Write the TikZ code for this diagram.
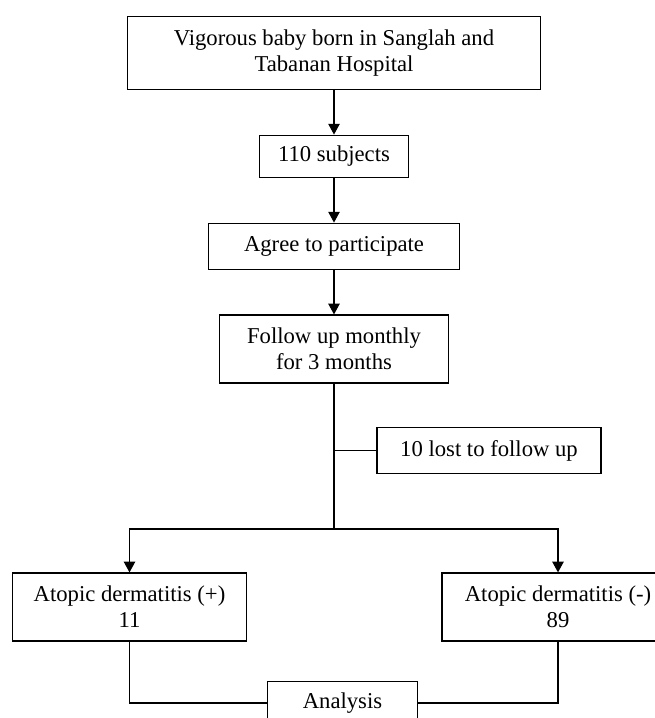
\documentclass[tikz,border=0pt]{standalone}
\usepackage{fontspec}
\setmainfont{Liberation Serif}
\usetikzlibrary{arrows.meta}
\begin{document}
\begin{tikzpicture}[x=0.75pt,y=-0.75pt,>={Triangle[length=8pt,width=8.5pt]},line width=0.9pt,
  every node/.style={font=\fontsize{17}{19.5}\selectfont},
  b/.style={draw,align=center,inner sep=2pt}]
\useasboundingbox (0,0) rectangle (654,718);
\node[b,minimum width=310pt,minimum height=55pt] (born) at (334,53) {Vigorous baby born in Sanglah and\\Tabanan Hospital};
\node[b,minimum width=112pt,minimum height=32pt] (subj) at (334,156.5) {110 subjects};
\node[b,minimum width=188pt,minimum height=35pt] (agree) at (334,246.5) {Agree to participate};
\node[b,minimum width=172pt,minimum height=51pt] (follow) at (334,349) {Follow up monthly\\for 3 months};
\node[b,minimum width=168pt,minimum height=34pt] (lost) at (489,450.5) {10 lost to follow up};
\node[b,minimum width=175pt,minimum height=51pt] (adpos) at (129.5,607) {Atopic dermatitis (+)\\11};
\node[b,minimum width=174pt,minimum height=51pt] (adneg) at (558,607) {Atopic dermatitis (-)\\89};
\node[b,minimum width=113pt,minimum height=32pt] (anal) at (342.5,703) {Analysis};
\coordinate (split) at (334,529);
\draw[->] (born)--(subj);
\draw[->] (subj)--(agree);
\draw[->] (agree)--(follow);
\draw (follow.south)--(split);
\draw (follow.south |- lost.west)--(lost.west);
\draw[->] (split)-|(adpos);
\draw[->] (split)-|(adneg);
\draw (adpos)|-(anal);
\draw (adneg)|-(anal);
\end{tikzpicture}
\end{document}
